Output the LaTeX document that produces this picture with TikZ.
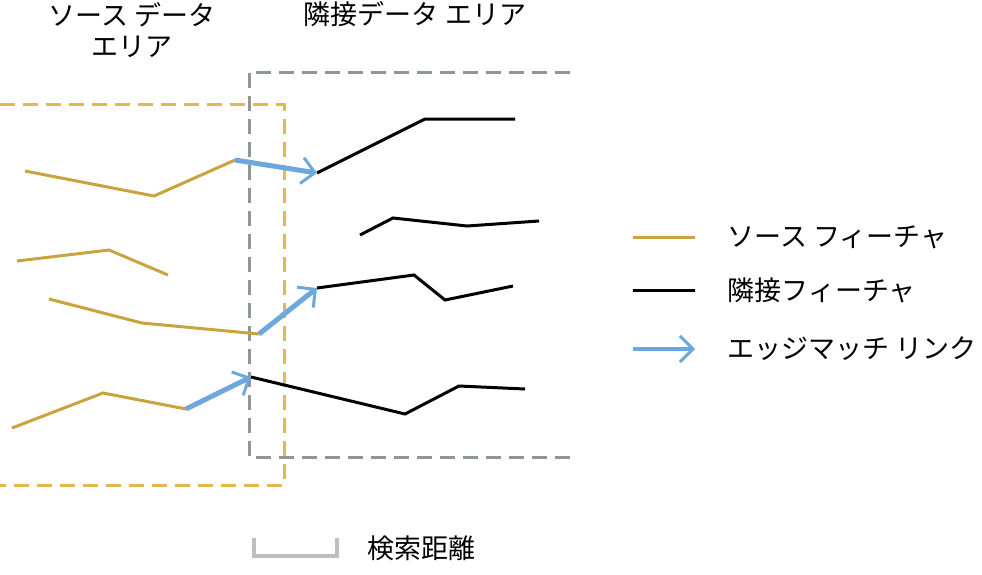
\documentclass[tikz,border=0pt]{standalone}
\usepackage{fontspec}
\setmainfont{Noto Sans CJK JP}
\usetikzlibrary{arrows.meta}
\definecolor{srcline}{RGB}{201,163,64}
\definecolor{srcbox}{RGB}{228,183,80}
\definecolor{nbrbox}{RGB}{143,150,150}
\definecolor{matchblue}{RGB}{108,168,222}
\definecolor{gapgray}{RGB}{190,190,190}

\begin{document}
\begin{tikzpicture}[x=1pt,y=-1pt,font=\fontsize{27}{31}\selectfont,
    srcfeat/.style={srcline,line width=3pt},
    nbrfeat/.style={black,line width=3pt},
    matchlink/.style={matchblue,line width=5pt,-{Straight Barb[length=13pt,width=26pt,line width=3pt]}},
    areabox/.style={line width=3pt,dash pattern=on 15pt off 8pt}]
        \useasboundingbox (0,0) rectangle (982,574);

        \node[align=center] (srctitle) at (132,30) {ソース データ\\エリア};
        \node (nbrtitle) at (415,14) {隣接データ エリア};

        \draw[areabox,srcbox] (0,104) -- (284,104) -- (284,485) -- (0,485);
        \draw[areabox,nbrbox] (570,72) -- (249,72) -- (249,457) -- (570,457);

        \draw[srcfeat] (25,171) -- (154,196) -- (235,160) coordinate (s1);
        \draw[srcfeat] (17,261) -- (109,250) -- (168,275);
        \draw[srcfeat] (49,299) -- (142,323) -- (259,334) coordinate (s3);
        \draw[srcfeat] (12,428) -- (103,393) -- (186,409) coordinate (s4);

        \draw[nbrfeat] (317,173) coordinate (n1) -- (425,119) -- (515,119);
        \draw[nbrfeat] (360,235) -- (393,218) -- (467,226) -- (539,221);
        \draw[nbrfeat] (317,288) coordinate (n3) -- (414,275) -- (445,300) -- (513,286);
        \draw[nbrfeat] (251,377) coordinate (n4) -- (405,414) -- (459,386) -- (525,389);

        \draw[matchlink] (s1) -- (n1);
        \draw[matchlink] (s3) -- (n3);
        \draw[matchlink] (s4) -- (n4);

        \draw[srcfeat] (633,237) coordinate (k1) -- (695,237);
        \draw[nbrfeat] (633,290) coordinate (k2) -- (695,290);
        \draw[matchlink,line width=4pt] (633,349) coordinate (k3) -- (695,349);
        \node[anchor=west] (key1) at (724,237) {ソース フィーチャ};
        \node[anchor=west] (key2) at (724,290) {隣接フィーチャ};
        \node[anchor=west] (key3) at (724,349) {エッジマッチ リンク};

        \draw[gapgray,line width=4pt] (254,538) -- (254,556) -- (337,556) -- (337,538);
        \node[anchor=west] (gaplabel) at (364,548) {検索距離};
    \end{tikzpicture}
\end{document}
